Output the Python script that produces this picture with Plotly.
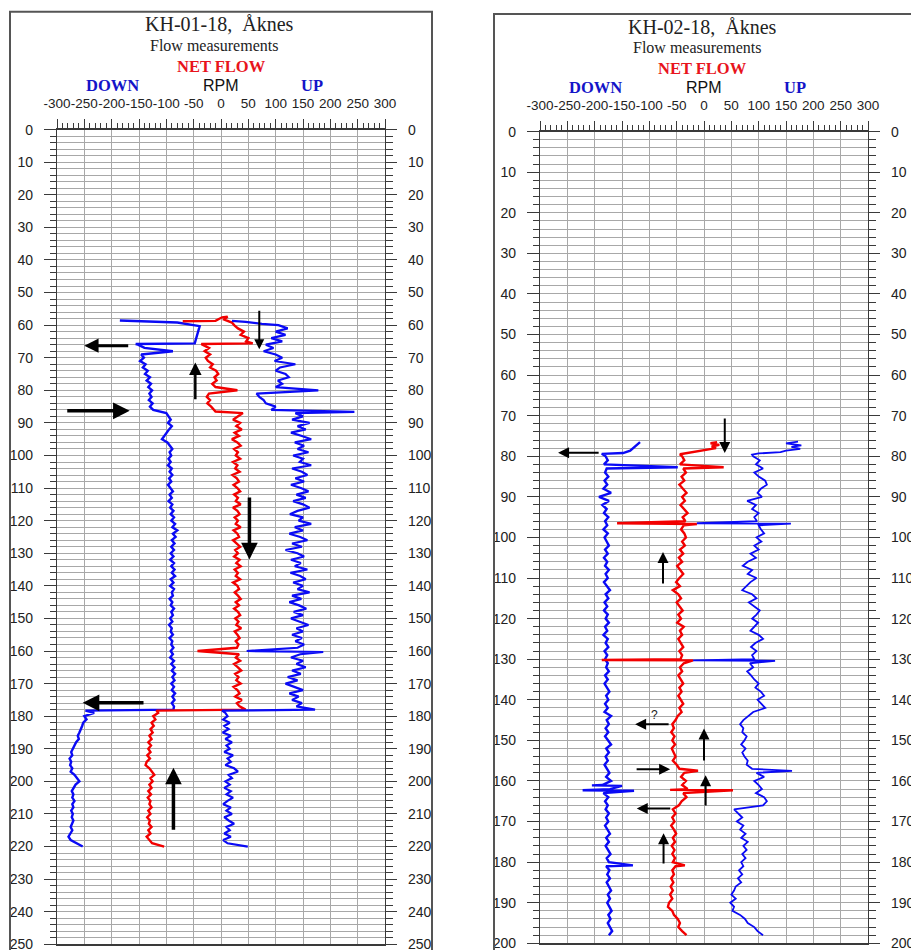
import plotly.graph_objects as go

# ---------------- data ----------------
X_TICK_VALUES = [-300, -250, -200, -150, -100, -50, 0, 50, 100, 150, 200, 250, 300]
X_TICK_LABELS = ["-300", "-250", "-200", "-150", "-100", "-50", "0", "50",
                 "100", "150", "200", "250", "300"]
PANEL_TITLES = ["KH-01-18,\u00a0 Åknes", "KH-02-18,\u00a0 Åknes"]
PANEL_SUBTITLE = "Flow measurements"
CURVE_LABELS = ["NET FLOW", "DOWN", "RPM", "UP"]
DEPTH_MAX = [250, 200]

# ---- KH-01-18 : logs sampled every metre + explicit points (depth m, value) ----
K1_DOWN_HEAD_D = [58.6, 59.2, 60.3, 65.6, 65.8]
K1_DOWN_HEAD_V = [-185, -80, -39, -48, -156]
K1_DOWN_START = 66
K1_DOWN_VALS = [
    -152, -140, -88, -146, -141, -148, -138, -143, -134, -139,
    -130, -136, -128, -133, -126, -131, -127, -132, -125, -130,
    -124, -100, -96, -92, -97, -90, -95, -99, -104, -108,
    -98, -93, -89, -94, -91, -96, -92, -97, -90, -94,
    -89, -95, -91, -97, -92, -88, -94, -90, -96, -89,
    -93, -87, -92, -86, -91, -84, -89, -80, -88, -83,
    -90, -85, -91, -86, -92, -87, -93, -86, -91, -85,
    -90, -84, -92, -87, -93, -86, -90, -88, -94, -89,
    -92, -86, -91, -88, -93, -89, -95, -90, -92, -88,
    -94, -89, -91, -87, -92, -88, -93, -86, -91, -85,
    -90, -84, -89, -85, -91, -86, -90, -84, -89, -85,
    -90, -86, -87, -232, -250, -246, -252, -254, -256, -259,
    -262, -260, -265, -268, -270, -274, -272, -277, -274, -276,
    -272, -275, -268, -264, -259, -266, -270, -273, -270, -272,
    -268, -272, -270, -274, -271, -273, -270, -272, -275, -272,
    -276, -279, -275, -265, -253]
K1_DOWN_EXTRA_D = [178.3]
K1_DOWN_EXTRA_V = [-248]

K1_NET_HEAD_D = [58.8, 58.7, 57.6, 57.4, 58.3, 59.2, 60.0, 61.0, 62.0, 63.0, 64.0, 65.0, 65.6, 65.8]
K1_NET_HEAD_V = [-70, -10, 2, 12, 6, 20, 24, 31, 42, 36, 50, 46, 58, -36]
K1_NET_START = 66
K1_NET_VALS = [
    -34, -22, -30, -20, -28, -24, -15, -20, -9, -5,
    -12, -8, -16, -10, 30, -22, -26, -20, -25, -18,
    -12, 40, 32, 22, 35, 28, 38, 25, 33, 20,
    30, 36, 24, 31, 27, 35, 22, 30, 26, 34,
    21, 29, 33, 23, 30, 35, 24, 31, 27, 36,
    22, 30, 34, 25, 31, 27, 36, 23, 30, 33,
    22, 29, 35, 26, 31, 24, 34, 28, 36, 25,
    31, 27, 35, 22, 30, 33, 25, 31, 36, 27,
    33, 24, 31, 35, 26, 32, 28, 37, 25, 30,
    34, 27, 32, 29, -43, 33, 27, 35, 24, 31,
    37, 26, 32, 28, 36, 23, 30, 34, 26, 38,
    29, 34, 45, -115, -124, -120, -127, -123, -129, -125,
    -131, -127, -133, -128, -133, -129, -135, -130, -136, -138,
    -131, -127, -122, -129, -125, -131, -127, -133, -128, -134,
    -129, -131, -127, -133, -129, -135, -130, -132, -127, -133,
    -129, -136, -131, -126, -104]
K1_NET_EXTRA_D = [86.5, 178.3]
K1_NET_EXTRA_V = [-10, -118]

K1_UP_HEAD_D = [58.7, 59.0, 59.6]
K1_UP_HEAD_V = [20, 45, 75]
K1_UP_START = 60
K1_UP_VALS = [
    105, 122, 100, 118, 92, 112, 82, 96, 78, 100,
    112, 98, 136, 108, 100, 118, 124, 104, 112, 100,
    178, 65, 70, 78, 82, 100, 92, 136, 150, 130,
    162, 140, 155, 128, 148, 165, 135, 152, 140, 160,
    132, 150, 144, 165, 130, 148, 158, 136, 152, 128,
    146, 160, 138, 155, 132, 150, 162, 140, 126, 150,
    142, 165, 135, 150, 125, 145, 158, 130, 148, 118,
    140, 152, 128, 146, 135, 158, 127, 145, 155, 132,
    150, 140, 162, 130, 147, 125, 143, 156, 133, 150,
    128, 145, 160, 138, 150, 130, 148, 136, 152, 140,
    47, 145, 128, 150, 138, 155, 130, 146, 122, 140,
    118, 135, 150, 125, 142, 130, 148, 138, 172, 8,
    12, 4, 16, 6, 14, 3, 18, 8, 20, 10,
    16, 6, 22, 12, 18, 8, 24, 31, 14, 20,
    8, 16, 6, 18, 10, 22, 12, 4, 18, 10,
    20, 6, 14, 24, 10, 16, 6, 18, 4, 12,
    49]
K1_UP_EXTRA_D = [86.6, 160.3, 178.3]
K1_UP_EXTRA_V = [244, 187, 2]

# ---- KH-02-18 ----
K2_DOWN_HEAD_D = [76.5, 77.5, 78.6, 79.2, 79.4]
K2_DOWN_HEAD_V = [-117, -125, -135, -148, -187]
K2_DOWN_START = 80
K2_DOWN_VALS = [
    -180, -176, -183, -178, -181, -175, -182, -177, -184, -170,
    -192, -174, -186, -178, -183, -175, -181, -177, -184, -176,
    -182, -178, -174, -181, -176, -183, -177, -181, -174, -180,
    -176, -183, -178, -172, -180, -175, -182, -177, -183, -176,
    -180, -174, -181, -177, -184, -176, -180, -175, -182, -177,
    -181, -176, -179, -174, -181, -176, -182, -177, -173, -179,
    -175, -181, -176, -182, -170, -178, -174, -180, -175, -181,
    -176, -170, -179, -174, -180, -176, -182, -177, -173, -179,
    -170, -186, -172, -184, -175, -181, -176, -180, -174, -179,
    -175, -181, -176, -172, -179, -174, -180, -175, -171, -178,
    -174, -179, -173, -177, -172, -178, -174, -170, -176, -172,
    -177, -173, -169, -175, -171, -176, -172, -168, -174]
K2_DOWN_EXTRA_D = [82.7, 161.1, 161.2, 162.3, 162.4, 180.8]
K2_DOWN_EXTRA_V = [-48, -205, -150, -222, -128, -130]

K2_NET_HEAD_D = [76.5, 76.8, 77.2, 77.6, 78.0, 78.6, 79.2, 79.5]
K2_NET_HEAD_V = [24, 12, 28, 14, 22, -7, -31, -44]
K2_NET_START = 80
K2_NET_VALS = [
    -40, -36, -44, -38, -33, -41, -36, -45, -38, -32,
    -40, -35, -43, -37, -30, -39, -34, -37, -42, -36,
    -33, -40, -35, -44, -38, -46, -40, -49, -43, -38,
    -45, -51, -44, -57, -47, -42, -50, -44, -39, -47,
    -42, -49, -37, -44, -40, -47, -42, -38, -45, -40,
    -43, -37, -44, -40, -47, -42, -38, -45, -41, -47,
    -43, -38, -45, -41, -48, -52, -58, -55, -60, -54,
    -58, -53, -59, -55, -52, -57, -50, -45, -36, -42,
    -33, -40, -30, -38, -32, -41, -46, -57, -52, -58,
    -54, -60, -55, -51, -57, -53, -59, -54, -58, -53,
    -57, -52, -58, -55, -60, -56, -61, -57, -62, -58,
    -64, -66, -58, -55, -48, -44, -47, -40, -32]
K2_NET_EXTRA_D = [82.7, 96.5, 96.7, 130.2, 130.3, 157.5, 162.2, 162.3, 180.8]
K2_NET_EXTRA_V = [36, -159, -13, -187, -20, -11, -62, 53, -35]

K2_UP_HEAD_D = [76.4, 76.8, 77.3, 77.7, 78.2, 78.6, 79.0, 79.3, 79.6]
K2_UP_HEAD_V = [172, 150, 178, 160, 176, 150, 140, 100, 88]
K2_UP_START = 80
K2_UP_VALS = [
    90, 102, 95, 108, 92, 100, 112, 115, 104, 98,
    106, 79, 95, 88, 100, 92, 97, 100, 104, 110,
    96, 105, 92, 100, 85, 95, 80, 71, 88, 80,
    96, 85, 78, 70, 88, 96, 82, 92, 102, 96,
    88, 99, 92, 85, 100, 108, 94, 86, 96, 88,
    92, 84, 90, 79, 86, 92, 100, 94, 104, 110,
    98, 106, 112, 90, 80, 72, 66, 72, 70, 78,
    74, 68, 76, 70, 74, 80, 78, 88, 96, 110,
    92, 100, 106, 95, 110, 115, 108, 55, 62, 70,
    60, 72, 66, 76, 68, 80, 72, 78, 70, 76,
    68, 72, 64, 70, 62, 68, 58, 55, 50, 58,
    48, 55, 52, 66, 75, 80, 92, 98, 108]
K2_UP_EXTRA_D = [96.5, 96.6, 130.3, 130.4, 157.5]
K2_UP_EXTRA_V = [-13, 159, -20, 130, 161]

# ---- flow-direction arrows (tail -> head, value / depth) ----
K1_ARROW_TAIL_X = [-167, -284, -47, 70, 52, -139, -87]
K1_ARROW_TAIL_D = [66.3, 86.3, 83.2, 55.1, 112.4, 175.9, 215.3]
K1_ARROW_HEAD_X = [-250, -167, -47, 70, 52, -253, -87]
K1_ARROW_HEAD_D = [66.3, 86.3, 71.5, 67.4, 131.9, 175.9, 195.8]

K2_ARROW_TAIL_X = [-190, 38, -75, -62, 0, -126, 3, -59, -74]
K2_ARROW_TAIL_D = [79.1, 70.3, 111.7, 146.0, 155.3, 157.1, 166.4, 166.8, 180.7]
K2_ARROW_HEAD_X = [-267, 38, -75, -126, 0, -62, 3, -123, -74]
K2_ARROW_HEAD_D = [79.1, 79.2, 103.6, 146.0, 147.1, 157.1, 158.6, 166.8, 172.9]
K2_NOTE_TEXT = "?"
K2_NOTE_X = -90
K2_NOTE_D = 143.8


# ---------------- build ----------------
def build(head_d, head_v, start, vals, extra_d, extra_v):
    grid_d = [start + i for i in range(len(vals))]
    pts = sorted(zip(list(extra_d) + grid_d, list(extra_v) + list(vals)), key=lambda p: p[0])
    return list(head_d) + [p[0] for p in pts], list(head_v) + [p[1] for p in pts]


BLUE = "#0a0af5"
RED = "#f20000"
W = 911
H = 950

fig = go.Figure()

panels = [
    ("x", "y", [
        (K1_DOWN_HEAD_D, K1_DOWN_HEAD_V, K1_DOWN_START, K1_DOWN_VALS, K1_DOWN_EXTRA_D, K1_DOWN_EXTRA_V, BLUE, 2.4),
        (K1_NET_HEAD_D, K1_NET_HEAD_V, K1_NET_START, K1_NET_VALS, K1_NET_EXTRA_D, K1_NET_EXTRA_V, RED, 2.4),
        (K1_UP_HEAD_D, K1_UP_HEAD_V, K1_UP_START, K1_UP_VALS, K1_UP_EXTRA_D, K1_UP_EXTRA_V, BLUE, 2.2),
    ]),
    ("x2", "y2", [
        (K2_DOWN_HEAD_D, K2_DOWN_HEAD_V, K2_DOWN_START, K2_DOWN_VALS, K2_DOWN_EXTRA_D, K2_DOWN_EXTRA_V, BLUE, 2.4),
        (K2_NET_HEAD_D, K2_NET_HEAD_V, K2_NET_START, K2_NET_VALS, K2_NET_EXTRA_D, K2_NET_EXTRA_V, RED, 2.4),
        (K2_UP_HEAD_D, K2_UP_HEAD_V, K2_UP_START, K2_UP_VALS, K2_UP_EXTRA_D, K2_UP_EXTRA_V, BLUE, 1.8),
    ]),
]
for xa, ya, curves in panels:
    for hd, hv, st, vals, ed, ev, col, lw in curves:
        d, v = build(hd, hv, st, vals, ed, ev)
        fig.add_trace(go.Scatter(x=v, y=d, mode="lines", xaxis=xa, yaxis=ya,
                                 line=dict(color=col, width=lw), hoverinfo="skip",
                                 showlegend=False))

# invisible traces so the right-hand depth axes are drawn
fig.add_trace(go.Scatter(x=[None], y=[None], xaxis="x", yaxis="y3", showlegend=False, hoverinfo="skip"))
fig.add_trace(go.Scatter(x=[None], y=[None], xaxis="x2", yaxis="y4", showlegend=False, hoverinfo="skip"))

AX = "#3a3a3a"
GRID = "#a8a8a8"
SANS = "Liberation Sans, Arial, sans-serif"
SERIF = "Liberation Serif, Times New Roman, serif"


def xcfg(domain, anchor):
    return dict(domain=domain, anchor=anchor, side="top", range=[-300, 300],
                tickmode="array", tickvals=X_TICK_VALUES, ticktext=X_TICK_LABELS,
                tickangle=0, ticklabeloverflow="allow",
                ticks="outside", ticklen=9, tickwidth=1, tickcolor=AX,
                showline=True, linecolor=AX, linewidth=1.2, mirror=True,
                showgrid=True, gridcolor=GRID, gridwidth=1, zeroline=False,
                minor=dict(tickmode="linear", tick0=-300, dtick=10, ticks="outside",
                           ticklen=5, tickcolor=AX, showgrid=False),
                tickfont=dict(family=SANS, size=13.5, color="#222"),
                ticklabelstandoff=6, fixedrange=True, automargin=False)


def ycfg(dmax, anchor, side, ticklen, minorlen, grid, domain=None, overlay=None):
    c = dict(anchor=anchor, side=side, range=[dmax, 0], tickmode="linear", tick0=0, dtick=10,
             ticklabeloverflow="allow",
             ticks="outside", ticklen=ticklen, tickwidth=1, tickcolor=AX,
             showline=True, linecolor=AX, linewidth=1.2,
             showgrid=grid, gridcolor=GRID, gridwidth=1, zeroline=False,
             minor=dict(tickmode="linear", tick0=0, dtick=2, ticks="outside", ticklen=minorlen,
                        tickcolor=AX, showgrid=grid, gridcolor=GRID, gridwidth=1),
             tickfont=dict(family=SANS, size=14, color="#222"),
             ticklabelstandoff=8, fixedrange=True, automargin=False)
    if domain is not None:
        c["domain"] = domain
    if overlay is not None:
        c["overlaying"] = overlay
    return c


fig.update_layout(
    width=W, height=H, margin=dict(l=0, r=0, t=0, b=0), template="none",
    paper_bgcolor="white", plot_bgcolor="white", showlegend=False,
    xaxis=xcfg([57 / W, 385 / W], "y"),
    yaxis=ycfg(DEPTH_MAX[0], "x", "left", 12, 6, True, domain=[1 - 944.3 / H, 1 - 129.6 / H]),
    yaxis3=ycfg(DEPTH_MAX[0], "x", "right", 11, 7, False, overlay="y"),
    xaxis2=xcfg([540 / W, 868 / W], "y2"),
    yaxis2=ycfg(DEPTH_MAX[1], "x2", "left", 12, 6, True, domain=[1 - 943.3 / H, 1 - 131.6 / H]),
    yaxis4=ycfg(DEPTH_MAX[1], "x2", "right", 11, 7, False, overlay="y2"),
)

# panel frames
fig.add_shape(type="rect", xref="paper", yref="paper", x0=10 / W, x1=432 / W, y0=-0.05, y1=1 - 11.7 / H,
              line=dict(color="#555", width=2), fillcolor="rgba(0,0,0,0)")
fig.add_shape(type="rect", xref="paper", yref="paper", x0=494 / W, x1=1.1, y0=-0.05, y1=1 - 14 / H,
              line=dict(color="#555", width=2), fillcolor="rgba(0,0,0,0)")

# header texts
hdr = [
    # (title x,y), (sub x,y), (net x,y), (down x,y), (rpm x,y), (up x,y)
    [(219, 24), (214, 45), (221, 67), (112, 85), (221, 85), (312, 85)],
    [(702, 27), (697, 47), (702, 69), (595, 88), (704, 88), (795, 88)],
]
for i, pos in enumerate(hdr):
    items = [
        (PANEL_TITLES[i], pos[0], dict(family=SERIF, size=20, color="#222")),
        (PANEL_SUBTITLE, pos[1], dict(family=SERIF, size=16, color="#222")),
        ("<b>" + CURVE_LABELS[0] + "</b>", pos[2], dict(family=SERIF, size=16.5, color="#e8141c")),
        ("<b>" + CURVE_LABELS[1] + "</b>", pos[3], dict(family=SERIF, size=16.5, color="#1414c8")),
        (CURVE_LABELS[2], pos[4], dict(family=SANS, size=16, color="#111")),
        ("<b>" + CURVE_LABELS[3] + "</b>", pos[5], dict(family=SERIF, size=16.5, color="#1414c8")),
    ]
    for txt, (px, py), font in items:
        fig.add_annotation(text=txt, x=px / W, y=1 - py / H, xref="paper", yref="paper",
                           xanchor="center", yanchor="middle", showarrow=False, font=font,
                           borderpad=0)

# arrows
K1_W = [3, 3.5, 2.5, 2, 3.5, 3.5, 3.5]
for tx, td, hx, hd, w in zip(K1_ARROW_TAIL_X, K1_ARROW_TAIL_D, K1_ARROW_HEAD_X, K1_ARROW_HEAD_D, K1_W):
    fig.add_annotation(x=hx, y=hd, ax=tx, ay=td, xref="x", yref="y", axref="x", ayref="y",
                       text="", showarrow=True, arrowhead=2, arrowsize=0.95 if w >= 3 else 1.0,
                       arrowwidth=w, arrowcolor="black", standoff=0)
for tx, td, hx, hd in zip(K2_ARROW_TAIL_X, K2_ARROW_TAIL_D, K2_ARROW_HEAD_X, K2_ARROW_HEAD_D):
    fig.add_annotation(x=hx, y=hd, ax=tx, ay=td, xref="x2", yref="y2", axref="x2", ayref="y2",
                       text="", showarrow=True, arrowhead=2, arrowsize=1.1,
                       arrowwidth=2, arrowcolor="black", standoff=0)
fig.add_annotation(x=K2_NOTE_X, y=K2_NOTE_D, xref="x2", yref="y2", text=K2_NOTE_TEXT,
                   showarrow=False, font=dict(family=SANS, size=12, color="#222"))

fig.write_html("out.html", config={"displayModeBar": False, "staticPlot": True},
               post_script="document.body.style.margin='0px';document.body.style.overflow='hidden';")
